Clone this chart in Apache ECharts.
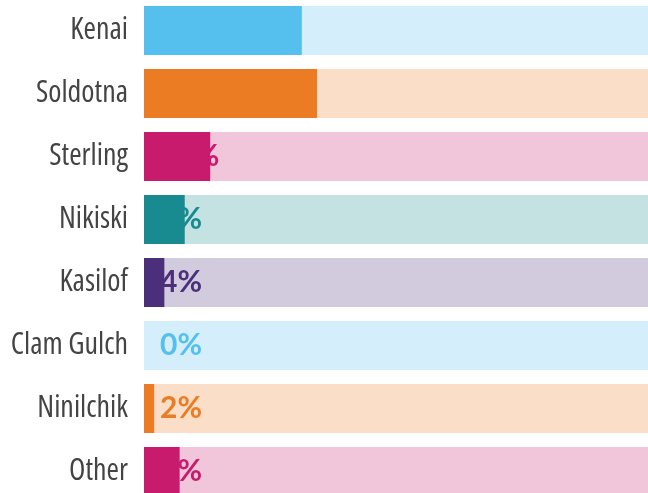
<!DOCTYPE html>
<html><head><meta charset="utf-8">
<script src="https://cdn.jsdelivr.net/npm/echarts@6/dist/echarts.min.js"></script>
<style>html,body{margin:0;padding:0;background:#fff}#c{width:648px;height:493px}</style>
</head><body><div id="c"></div>
<script>
const categories = ["Kenai","Soldotna","Sterling","Nikiski","Kasilof","Clam Gulch","Ninilchik","Other"];
const values = [31,34,13,8,4,0,2,7];
const maxValue = 99;
const palette = ["#55c0ee","#ec7c24","#c81b6e","#178b8f","#4b2f7b"];

function col(i){return palette[i % palette.length];}
function hexA(h,a){const r=parseInt(h.slice(1,3),16),g=parseInt(h.slice(3,5),16),b=parseInt(h.slice(5,7),16);return `rgba(${r},${g},${b},${a})`;}

const chart = echarts.init(document.getElementById('c'));
chart.setOption({
  animation:false,
  grid:{left:144,right:0,top:-1,bottom:-10,containLabel:false,outerBoundsMode:'none'},
  xAxis:{type:'value',min:0,max:maxValue,show:false},
  yAxis:{type:'category',data:categories,inverse:true,
    axisLine:{show:false},axisTick:{show:false},
    axisLabel:{margin:16,color:'#444',fontSize:30,fontStyle:'condensed',fontFamily:'"Open Sans",sans-serif'}},
  series:[
    {type:'bar',z:2,barWidth:49,barGap:'-100%',silent:true,
     data:categories.map((c,i)=>({value:maxValue,itemStyle:{color:hexA(col(i),0.25)},
       label:{show:true,position:'insideLeft',distance:16,formatter:values[i]+'%',color:col(i),fontSize:30,fontWeight:'bold',fontFamily:'Lato,sans-serif'}}))},
    {type:'bar',z:5,barWidth:49,barGap:'-100%',
     data:values.map((v,i)=>({value:v,itemStyle:{color:col(i)}}))}
  ]
});
</script></body></html>
